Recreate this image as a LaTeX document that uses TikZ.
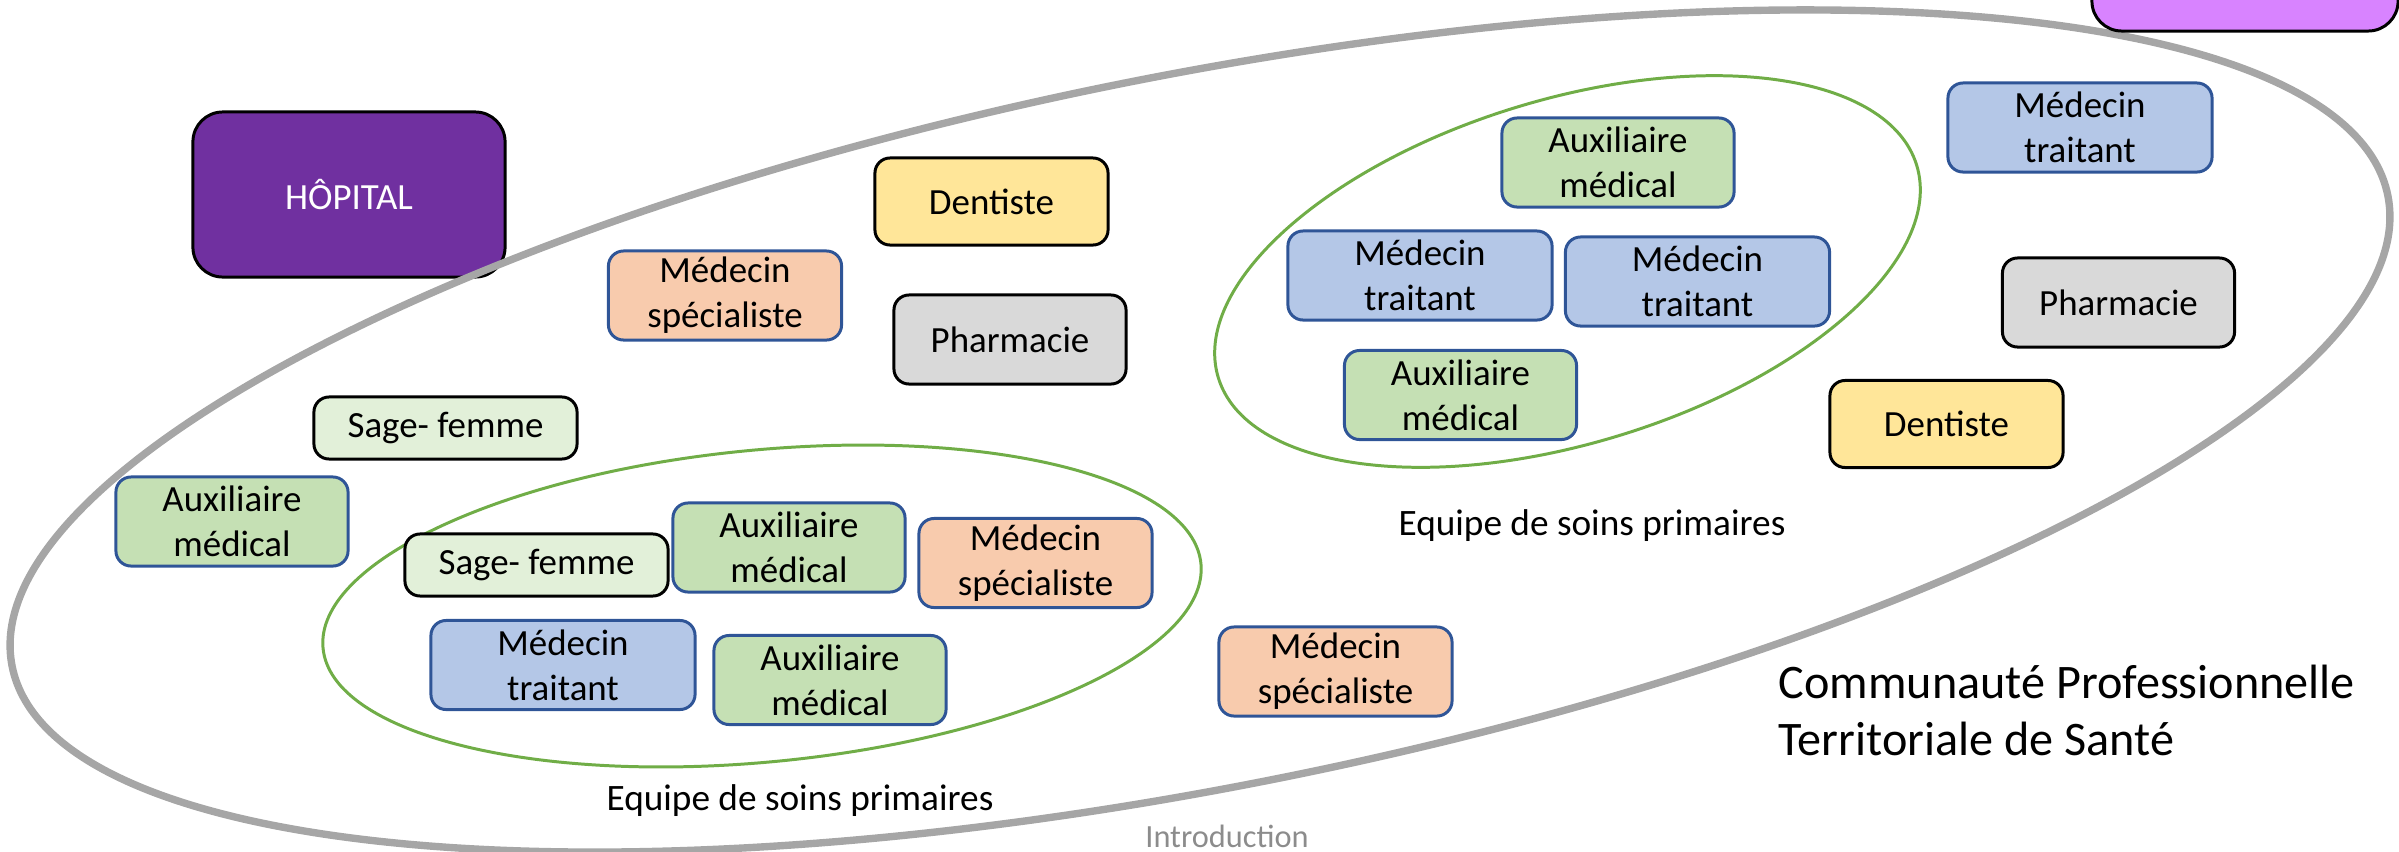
\documentclass[tikz,border=0pt]{standalone}
\usepackage{fontspec}
\setmainfont{Carlito}
\usepackage{tikz}
\definecolor{hopital}{HTML}{7030A0}
\definecolor{lilas}{HTML}{D883FF}
\definecolor{bordure}{HTML}{2F5597}
\definecolor{auxvert}{HTML}{C5E0B4}
\definecolor{medbleu}{HTML}{B4C7E7}
\definecolor{specrose}{HTML}{F8CBAD}
\definecolor{dentjaune}{HTML}{FFE699}
\definecolor{pharmagris}{HTML}{D9D9D9}
\definecolor{sagevert}{HTML}{E2F0D9}
\definecolor{cercle}{HTML}{A6A6A6}
\definecolor{equipe}{HTML}{70AD47}
\definecolor{intro}{HTML}{8C8C8C}
\tikzset{
	box/.style={draw, line width=0.85pt, rounded corners=4.3pt, align=center, inner sep=0pt, minimum width=2.32cm, minimum height=0.89cm, font=\fontsize{10.5}{12.8}\selectfont},
	bluebox/.style={box, draw=bordure},
	aux/.style={bluebox, fill=auxvert},
	medt/.style={bluebox, fill=medbleu, minimum width=2.64cm},
	spec/.style={bluebox, fill=specrose, minimum width=2.33cm},
	dent/.style={box, fill=dentjaune, minimum width=2.33cm, minimum height=0.87cm},
	pharma/.style={box, fill=pharmagris},
	sage/.style={box, fill=sagevert, minimum width=2.63cm, minimum height=0.62cm},
	hosp/.style={box, fill=hopital, text=white, rounded corners=8.5pt, minimum width=3.12cm, minimum height=1.65cm},
	label/.style={font=\fontsize{10.6}{12.8}\selectfont}
}

\begin{document}
\begin{tikzpicture}[x=0.01cm, y=-0.01cm]
			\useasboundingbox (0,0) rectangle (2399,851);
			\node[hosp] (H) at (349,194.5) {HÔPITAL};
			
			\draw[cercle, line width=2.1pt, rotate around={11.2:(1200,431)}] (1200,431) ellipse (1211 and 356);
			\draw[equipe, line width=0.85pt, rotate around={16.9:(1567.5,271.5)}] (1567.5,271.5) ellipse (365 and 172);
			\draw[equipe, line width=0.85pt, rotate around={5.5:(762,606)}] (762,606) ellipse (441 and 156);
			
			\node[box, fill=lilas, rounded corners=8.5pt, minimum width=3.06cm] (L) at (2245,-13.5) {};
			\node[dent] (A) at (991.5,201.5) {Dentiste};
			\node[spec] (B) at (725,295.5) {Médecin\\spécialiste};
			\node[pharma] (C) at (1010,339.5) {Pharmacie};
			\node[sage] (D) at (445.5,428) {Sage- femme};
			\node[aux] (E) at (232,521.5) {Auxiliaire\\médical};
			\node[sage] (F) at (536.5,565) {Sage- femme};
			\node[aux] (G) at (789,547.5) {Auxiliaire\\médical};
			\node[spec] (I) at (1035.5,563) {Médecin\\spécialiste};
			\node[medt] (J) at (563,665) {Médecin\\traitant};
			\node[aux] (K) at (830,680) {Auxiliaire\\médical};
			\node[spec] (M) at (1335.5,671.5) {Médecin\\spécialiste};
			\node[aux] (N) at (1618,162.5) {Auxiliaire\\médical};
			\node[medt] (O) at (1420,275.5) {Médecin\\traitant};
			\node[medt] (P) at (1697.5,281.5) {Médecin\\traitant};
			\node[aux] (Q) at (1460.5,395) {Auxiliaire\\médical};
			\node[medt] (R) at (2080,127.5) {Médecin\\traitant};
			\node[pharma] (S) at (2118.5,302.5) {Pharmacie};
			\node[dent] (T) at (1946.5,424) {Dentiste};
			
			\node[label] (U) at (800,801) {Equipe de soins primaires};
			\node[label] (V) at (1592,526) {Equipe de soins primaires};
			\node[anchor=west, align=left, inner sep=0pt, font=\fontsize{13.7}{16.2}\selectfont] (W) at (1778,710) {Communauté Professionnelle\\Territoriale de Santé};
			\node[text=intro, font=\fontsize{9.2}{11}\selectfont] (X) at (1227,836) {Introduction};
		\end{tikzpicture}
\end{document}
